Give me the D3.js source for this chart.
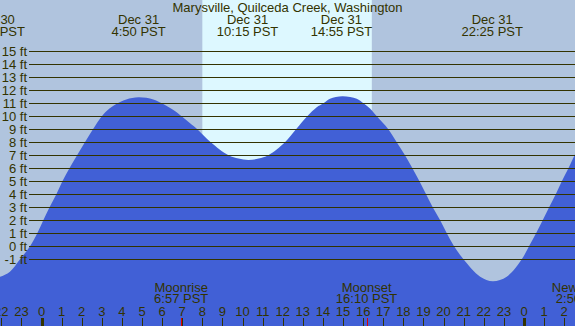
<!DOCTYPE html>
<html>
<head>
<meta charset="utf-8">
<script src="https://cdn.jsdelivr.net/npm/d3@7"></script>
<style>
  body { margin: 0; background: #b0c4de; }
  svg { display: block; font-family: "Liberation Sans", Arial, sans-serif; }
</style>
</head>
<body>
<svg id="chart" width="575" height="326"></svg>
<script>
// tide heights (hours from Dec 31 00:00, feet)
const tideHours = [-2.36, -2.06, -1.57, -1.07, -0.57, -0.21, 0.09, 0.40, 0.74, 1.04, 1.39, 1.77, 2.16, 2.56, 3.0, 3.38, 3.78, 4.22, 4.83, 5.56, 5.98, 6.56, 6.97, 7.39, 7.75, 8.42, 9.3, 9.8, 10.29, 10.8, 11.28, 12.11, 12.66, 13.22, 13.69, 14.02, 14.35, 14.97, 15.68, 16.01, 16.34, 16.68, 17.25, 17.67, 18.08, 18.45, 18.8, 19.13, 19.46, 19.83, 20.16, 20.52, 20.99, 21.82, 22.45, 23.14, 23.89, 24.25, 24.6, 24.93, 25.25, 25.58, 25.88, 26.21, 26.54, 26.7];
const tideFeet = [-2.42, -2.34, -1.95, -1.0, 0, 1, 2, 3, 4, 5, 6, 7, 8, 9, 10, 10.6, 11, 11.3, 11.46, 11.3, 11.0, 10.48, 10.0, 9.46, 9.0, 8.0, 7.0, 6.75, 6.64, 6.75, 7.0, 8.0, 9.0, 10.0, 10.69, 11.0, 11.35, 11.55, 11.35, 11.0, 10.6, 10.0, 9.0, 8.0, 7.0, 6.0, 5.0, 4.0, 3.0, 2.0, 1.0, 0, -1.0, -2.34, -2.69, -2.34, -1.0, 0, 1, 2, 3, 4, 5, 6, 7.1, 7.6];

const feetTicks = [-1, 0, 1, 2, 3, 4, 5, 6, 7, 8, 9, 10, 11, 12, 13, 14, 15];
const hourTicks = d3.range(-2, 27);
const dayStartHours = [0, 24];

// highs and lows labelled along the top
const extremeHours = [-2.35, 4.83, 10.25, 14.92, 22.42];
const extremeDates = ["Dec 30", "Dec 31", "Dec 31", "Dec 31", "Dec 31"];
const extremeTimes = ["21:39 PST", "4:50 PST", "10:15 PST", "14:55 PST", "22:25 PST"];

// moon events along the bottom
const moonHours = [6.95, 16.17, 26.93];
const moonNames = ["Moonrise", "Moonset", "New Moon"];
const moonTimes = ["6:57 PST", "16:10 PST", "2:56 PST"];

const sunriseHour = 8.0, sunsetHour = 16.43;
const title = "Marysville, Quilceda Creek, Washington";

const width = 575, height = 326;
const ink = "#333300";

const x = d3.scaleLinear().domain([0, 24]).range([41.5, 524]);
const y = d3.scaleLinear().domain([0, 15]).range([246.3, 51.3]);

const svg = d3.select("#chart");

svg.append("rect")
  .attr("width", width).attr("height", height)
  .attr("fill", "#b0c4de");

svg.append("rect")
  .attr("x", x(sunriseHour))
  .attr("width", x(sunsetHour) - x(sunriseHour))
  .attr("height", height)
  .attr("fill", "#ddf8ff");

const tide = tideHours.map((h, i) => [h, tideFeet[i]]);
const area = d3.area()
  .x(d => x(d[0]))
  .y0(height)
  .y1(d => y(d[1]))
  .curve(d3.curveCatmullRom.alpha(0.5));

svg.append("path")
  .datum(tide)
  .attr("d", area)
  .attr("fill", "#4160d6");

// feet grid + labels
svg.append("g")
  .attr("stroke", ink)
  .selectAll("line")
  .data(feetTicks)
  .join("line")
  .attr("x1", 29)
  .attr("x2", width)
  .attr("y1", d => Math.round(y(d)) + 0.5)
  .attr("y2", d => Math.round(y(d)) + 0.5);

svg.append("g")
  .attr("font-size", 13)
  .attr("fill", ink)
  .attr("text-anchor", "end")
  .selectAll("text")
  .data(feetTicks)
  .join("text")
  .attr("x", 27)
  .attr("y", d => y(d))
  .attr("dy", "0.36em")
  .text(d => d + " ft");

// title and tide extremes
svg.append("text")
  .attr("x", width / 2)
  .attr("y", 12)
  .attr("font-size", 13)
  .attr("fill", ink)
  .attr("text-anchor", "middle")
  .text(title);

const extremes = svg.append("g")
  .attr("font-size", 13)
  .attr("fill", ink)
  .attr("text-anchor", "middle")
  .selectAll("g")
  .data(extremeHours)
  .join("g");
extremes.append("text").attr("x", d => x(d)).attr("y", 23.5).text((d, i) => extremeDates[i]);
extremes.append("text").attr("x", d => x(d)).attr("y", 36).text((d, i) => extremeTimes[i]);

// moon events
const moon = svg.append("g")
  .attr("font-size", 13)
  .attr("fill", ink)
  .attr("text-anchor", "middle")
  .selectAll("g")
  .data(moonHours)
  .join("g");
moon.append("text").attr("x", d => x(d)).attr("y", 292).text((d, i) => moonNames[i]);
moon.append("text").attr("x", d => x(d)).attr("y", 303).text((d, i) => moonTimes[i]);

// hour axis
svg.append("g")
  .attr("font-size", 13)
  .attr("fill", ink)
  .attr("text-anchor", "middle")
  .selectAll("text")
  .data(hourTicks)
  .join("text")
  .attr("x", d => x(d))
  .attr("y", 316)
  .text(d => ((d % 24) + 24) % 24);

svg.append("g")
  .attr("stroke", ink)
  .selectAll("line")
  .data(hourTicks)
  .join("line")
  .attr("x1", d => Math.round(x(d)) + 0.5)
  .attr("x2", d => Math.round(x(d)) + 0.5)
  .attr("y1", 318)
  .attr("y2", height)
  .attr("stroke-width", d => dayStartHours.includes(d) ? 3 : 1);

svg.append("g")
  .attr("stroke", "#e00000")
  .selectAll("line")
  .data(moonHours)
  .join("line")
  .attr("x1", d => Math.round(x(d)) + 0.5)
  .attr("x2", d => Math.round(x(d)) + 0.5)
  .attr("y1", 318)
  .attr("y2", height);
</script>
</body>
</html>
